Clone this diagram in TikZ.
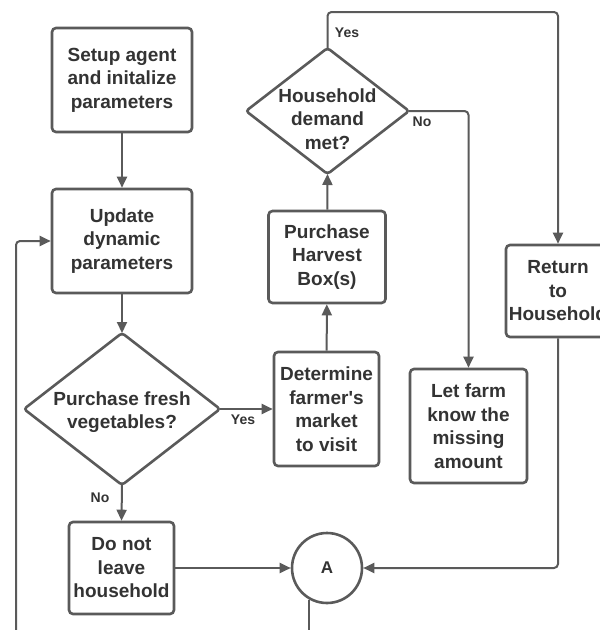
\documentclass[tikz,border=0pt]{standalone}
\usepackage{fontspec}
\setmainfont{Liberation Sans}
\usetikzlibrary{arrows.meta}
\definecolor{ln}{HTML}{5A5A5A}
\definecolor{tx}{HTML}{333333}
\begin{document}
\begin{tikzpicture}[x=1pt,y=-1pt,
  mainfont/.style={font=\fontsize{19}{23.5}\selectfont\bfseries},
  box/.style={draw=ln, line width=2.6pt, rounded corners=4pt, align=center, text=tx, mainfont, inner sep=0pt},
  dtext/.style={align=center, text=tx, mainfont, inner sep=0pt},
  dline/.style={draw=ln, line width=2.6pt, rounded corners=3pt},
  conn/.style={draw=ln, line width=2pt, rounded corners=4pt, -{Triangle[length=11pt,width=10pt]}},
  plain/.style={draw=ln, line width=2pt},
  lbl/.style={text=tx, font=\fontsize{14}{16}\selectfont\bfseries, inner sep=0pt}]
\useasboundingbox (0,0) rectangle (600,630);
\clip (0,0) rectangle (600,630);
\fill[white] (0,0) rectangle (600,630);

\node[box, minimum width=140pt, minimum height=104pt] (setup) at (122,80) {Setup agent\\and initalize\\parameters};
\node[box, minimum width=140pt, minimum height=104pt] (update) at (122,241) {Update\\dynamic\\parameters};

% diamond: Purchase fresh vegetables?
\node[dtext] (pfv) at (122,412) {Purchase fresh\\vegetables?};
\coordinate (pfvN) at (122,333);
\coordinate (pfvS) at (122,485);
\coordinate (pfvW) at (24,409);
\coordinate (pfvE) at (220,409);
\draw[dline] (pfvN) -- (pfvE) -- (pfvS) -- (pfvW) -- cycle;

\node[box, minimum width=105pt, minimum height=92pt] (donot) at (121.5,568) {Do not\\leave\\household};
\node[circle, draw=ln, line width=2.6pt, minimum size=70pt, inner sep=0pt, text=tx, font=\fontsize{17}{20}\selectfont\bfseries] (A) at (327,568) {A};
\node[box, minimum width=105pt, minimum height=114pt] (determine) at (326.5,409) {Determine\\farmer\textquotesingle s\\market\\to visit};
\node[box, minimum width=117pt, minimum height=92pt] (harvest) at (327,257) {Purchase\\Harvest\\Box(s)};

% diamond: Household demand met?
\node[dtext] (hdm) at (327.5,119) {Household\\demand\\met?};
\coordinate (hdmN) at (327.5,48);
\coordinate (hdmS) at (327.5,174);
\coordinate (hdmW) at (246,111);
\coordinate (hdmE) at (409,111);
\draw[dline] (hdmN) -- (hdmE) -- (hdmS) -- (hdmW) -- cycle;

\node[box, minimum width=117pt, minimum height=114pt] (letfarm) at (468.5,426) {Let farm\\know the\\missing\\amount};
\node[box, minimum width=104pt, minimum height=92pt] (return) at (558,291) {Return\\to\\Household};

\coordinate (loopstart) at (16,632);
\coordinate (aout) at (310,632);
\coordinate (topy) at (327.5,12);

\draw[conn] (setup) -- (update);
\draw[conn] (update) -- (pfvN);
\draw[conn] (pfvE) -- (determine.west);
\node[lbl] (yes1) at (243,420) {Yes};
\draw[conn] (pfvS) -- (donot.north);
\node[lbl] (no1) at (100,498) {No};
\draw[conn] (donot.east) -- (A.west);
\draw[conn] (determine) -- (harvest);
\draw[conn] (harvest) -- (hdmS);
\draw[conn] (hdmN) -- (topy) -| (return.north);
\node[lbl] (yes2) at (347,33) {Yes};
\draw[conn] (hdmE) -| (letfarm.north);
\node[lbl] (no2) at (422,122) {No};
\draw[conn] (return.south) |- (A.east);
\draw[conn] (loopstart) |- (update.west);
\draw[plain] (A.241) -- (A.241 |- aout);
\end{tikzpicture}
\end{document}
